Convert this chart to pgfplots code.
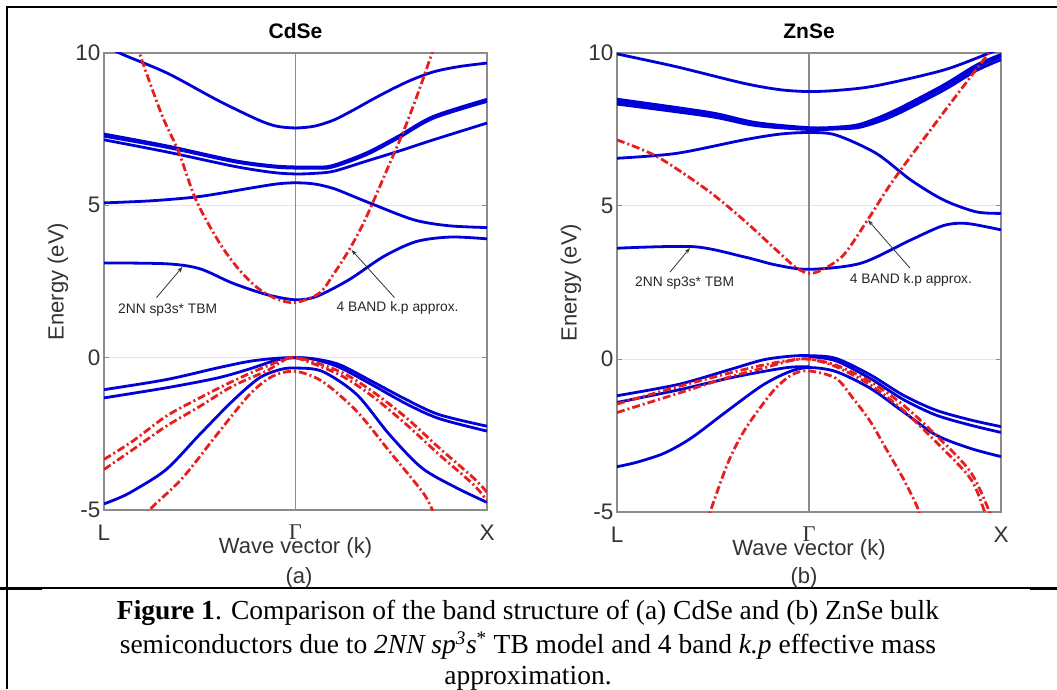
\documentclass[border=0pt]{standalone}
\usepackage{pgfplots}
\pgfplotsset{compat=1.18}
\usepackage{graphicx}
\usepackage{fontspec}
\setmainfont{Liberation Sans}
\newfontfamily\serif{Liberation Serif}
\usetikzlibrary{arrows.meta}
\definecolor{tbblue}{RGB}{0,0,215}
\definecolor{kpred}{RGB}{230,30,30}
\tikzset{
  ann/.style={font=\fontsize{13.8}{16}\selectfont, text=black!85},
  arr/.style={-{Stealth[length=6pt,width=4pt]}, line width=0.8pt, black!80},
}
\pgfplotsset{
  bandax/.style={
    scale only axis, xmin=-1, xmax=1, ymin=-5, ymax=10,
    xtick={-1,0,1}, xticklabels={L,{\serif Γ},X},
    ytick={-5,0,5,10},
    axis line style={draw=black!45, line width=1.2pt},
    tick style={draw=black!45, line width=1pt},
    major tick length=5pt, tick align=inside,
    ymajorgrids, grid style={black!10, line width=1pt},
    ticklabel style={font=\fontsize{22.5}{26}\selectfont, text=black!80},
    /pgf/number format/assume math mode=true,
    xticklabel style={yshift=-11pt},
    label style={font=\fontsize{22}{26}\selectfont, text=black!80},
    title style={font=\fontsize{21}{25}\selectfont\bfseries, text=black, at={(axis description cs:0.5,1.035)}, anchor=center},
    xlabel={Wave vector (k)}, ylabel={Energy (eV)},
    xlabel style={at={(axis description cs:0.5,-0.083)}, anchor=center},
    ylabel style={at={(axis description cs:-0.12,0.5)}, anchor=center},
    clip=true,
  },
  tb/.style={color=tbblue, line width=2.8pt, smooth, no markers, solid},
  kp/.style={color=kpred, line width=2.8pt, smooth, no markers, dash pattern=on 8pt off 3pt on 2pt off 3pt},
}
\begin{document}
\begin{tikzpicture}
\useasboundingbox (0pt,0pt) rectangle (1057pt,689pt);
% frame
\draw[line width=2.5pt] (1057pt,682pt) -- (7pt,682pt) -- (7pt,0pt);
\draw[line width=1.5pt] (0pt,101pt) -- (1057pt,101pt);
\draw[line width=3pt] (0pt,101pt) -- (42pt,101pt);
\draw[line width=3pt] (1030pt,101pt) -- (1057pt,101pt);

% ---------------- CdSe ----------------
\begin{axis}[bandax, at={(104pt,179pt)}, anchor=south west, width=383pt, height=457pt, title={CdSe}]
\draw[black!45, line width=1.2pt] (axis cs:0,-5) -- (axis cs:0,10);
% TB conduction bands
\addplot[tb] coordinates {(-1,10.3) (-0.92,10.0) (-0.67,9.34) (-0.41,8.46) (-0.2,7.82) (-0.1,7.6) (0,7.54) (0.1,7.6) (0.2,7.8) (0.3,8.12) (0.4,8.47) (0.5,8.8) (0.6,9.1) (0.72,9.38) (0.85,9.55) (1,9.67)};
\addplot[tb] coordinates {(-1,7.34) (-0.67,6.95) (-0.32,6.47) (-0.12,6.3) (0,6.26) (0.1,6.26) (0.19,6.3) (0.37,6.72) (0.54,7.28) (0.72,7.92) (1,8.48)};
\addplot[tb] coordinates {(-1,7.27) (-0.67,6.9) (-0.32,6.43) (-0.12,6.26) (0,6.22) (0.1,6.22) (0.19,6.25) (0.37,6.66) (0.54,7.22) (0.72,7.86) (1,8.41)};
\addplot[tb] coordinates {(-1,7.15) (-0.67,6.75) (-0.32,6.28) (-0.12,6.08) (0,6.03) (0.1,6.05) (0.2,6.12) (0.37,6.45) (0.55,6.8) (0.72,7.15) (1,7.7)};
\addplot[tb] coordinates {(-1,5.08) (-0.75,5.15) (-0.5,5.29) (-0.24,5.56) (-0.1,5.7) (0,5.74) (0.1,5.7) (0.2,5.55) (0.3,5.3) (0.41,5.02) (0.62,4.52) (0.8,4.33) (1,4.27)};
\addplot[tb] coordinates {(-1,3.11) (-0.67,3.08) (-0.5,2.92) (-0.33,2.45) (-0.15,2.07) (0,1.9) (0.11,2.01) (0.28,2.56) (0.46,3.32) (0.63,3.81) (0.81,3.96) (1,3.9)};
% TB valence bands
\addplot[tb] coordinates {(-1,-1.05) (-0.675,-0.72) (-0.41,-0.34) (-0.24,-0.12) (-0.1,-0.02) (0,0) (0.1,-0.04) (0.23,-0.23) (0.40,-0.78) (0.58,-1.38) (0.75,-1.87) (1,-2.25)};
\addplot[tb] coordinates {(-1,-1.32) (-0.675,-0.99) (-0.41,-0.67) (-0.24,-0.37) (-0.1,-0.08) (0,0) (0.1,-0.06) (0.23,-0.32) (0.40,-0.89) (0.58,-1.52) (0.75,-2.0) (1,-2.41)};
\addplot[tb] coordinates {(-1,-4.8) (-0.92,-4.6) (-0.85,-4.38) (-0.675,-3.67) (-0.5,-2.52) (-0.33,-1.43) (-0.19,-0.67) (-0.08,-0.39) (0,-0.34) (0.14,-0.45) (0.32,-1.21) (0.49,-2.52) (0.66,-3.62) (0.84,-4.27) (1,-4.75)};
% k.p bands
\addplot[kp] coordinates {(-0.85,10.8) (-0.815,10) (-0.7,8.0) (-0.61,6.75) (-0.52,5.18) (-0.4,3.8) (-0.3,2.93) (-0.2,2.3) (-0.1,1.93) (0,1.81) (0.125,2.12) (0.2,2.75) (0.28,3.54) (0.35,4.35) (0.41,5.18) (0.48,6.2) (0.56,7.37) (0.635,8.6) (0.713,10) (0.75,10.7)};
\addplot[kp] coordinates {(-1,-3.34) (-0.85,-2.74) (-0.675,-1.92) (-0.5,-1.32) (-0.33,-0.78) (-0.15,-0.28) (0,0) (0.23,-0.45) (0.40,-1.1) (0.58,-1.98) (0.75,-2.96) (0.93,-3.95) (1,-4.42)};
\addplot[kp] coordinates {(-1,-3.67) (-0.85,-3.02) (-0.675,-2.25) (-0.5,-1.6) (-0.33,-0.94) (-0.15,-0.43) (-0.07,-0.12) (0,0) (0.23,-0.56) (0.40,-1.26) (0.58,-2.2) (0.75,-3.18) (0.93,-4.17) (1,-4.7)};
\addplot[kp] coordinates {(-0.8,-5.4) (-0.76,-4.98) (-0.59,-3.95) (-0.41,-2.52) (-0.24,-1.21) (-0.12,-0.61) (0,-0.45) (0.14,-0.78) (0.32,-1.76) (0.49,-3.07) (0.66,-4.38) (0.71,-4.93) (0.74,-5.4)};
% annotations
\node[ann] at (axis cs:-0.668,1.57) {2NN sp3s* TBM};
\draw[arr] (axis cs:-0.726,1.97) -- (axis cs:-0.59,2.98);
\node[ann] at (axis cs:0.533,1.64) {4 BAND k.p approx.};
\draw[arr] (axis cs:0.517,1.97) -- (axis cs:0.292,3.54);
\end{axis}

% ---------------- ZnSe ----------------
\begin{axis}[bandax, at={(617pt,177pt)}, anchor=south west, width=384pt, height=459pt, title={ZnSe}]
\draw[black!45, line width=1.2pt] (axis cs:0,-5) -- (axis cs:0,10);
\addplot[tb] coordinates {(-1,9.97) (-0.69,9.55) (-0.34,9.01) (-0.15,8.8) (0,8.74) (0.15,8.78) (0.35,8.93) (0.7,9.44) (0.94,10.0) (1,10.15)};
\addplot[tb] coordinates {(-1,8.49) (-0.52,8.06) (-0.28,7.73) (0,7.56) (0.15,7.58) (0.27,7.68) (0.44,8.1) (0.7,8.95) (0.87,9.6) (1,9.95)};
\addplot[tb] coordinates {(-1,8.41) (-0.52,8.0) (-0.28,7.68) (0,7.53) (0.15,7.55) (0.27,7.63) (0.44,8.03) (0.7,8.88) (0.87,9.52) (1,9.88)};
\addplot[tb] coordinates {(-1,8.33) (-0.52,7.93) (-0.28,7.63) (0,7.5) (0.15,7.52) (0.27,7.58) (0.44,7.95) (0.7,8.78) (0.87,9.42) (1,9.78)};
\addplot[tb] coordinates {(-1,6.56) (-0.69,6.72) (-0.34,7.16) (-0.15,7.35) (0,7.4) (0.14,7.32) (0.35,6.72) (0.53,5.85) (0.7,5.2) (0.87,4.81) (1,4.76)};
\addplot[tb] coordinates {(-1,3.62) (-0.6,3.67) (-0.34,3.34) (-0.17,3.07) (0,2.93) (0.27,3.13) (0.53,3.89) (0.7,4.36) (0.82,4.43) (1,4.22)};
% valence TB
\addplot[tb] coordinates {(-1,-1.2) (-0.68,-0.83) (-0.42,-0.36) (-0.24,-0.03) (-0.1,0.09) (0,0.11) (0.14,0.02) (0.32,-0.52) (0.49,-1.18) (0.66,-1.67) (0.84,-1.99) (1,-2.21)};
\addplot[tb] coordinates {(-1,-1.42) (-0.68,-1.01) (-0.42,-0.63) (-0.24,-0.41) (-0.1,-0.27) (0,-0.25)};
\addplot[tb] coordinates {(0,0.08) (0.14,-0.06) (0.32,-0.64) (0.49,-1.32) (0.66,-1.83) (0.84,-2.16) (1,-2.4)};
\addplot[tb] coordinates {(-1,-3.52) (-0.9,-3.38) (-0.77,-3.12) (-0.68,-2.84) (-0.59,-2.48) (-0.42,-1.67) (-0.24,-0.85) (-0.1,-0.41) (0,-0.28) (0.14,-0.41) (0.32,-0.96) (0.49,-1.72) (0.66,-2.48) (0.84,-2.92) (1,-3.19)};
% k.p
\addplot[kp] coordinates {(-1,7.16) (-0.79,6.61) (-0.53,5.52) (-0.34,4.54) (-0.17,3.56) (-0.07,3.0) (0,2.8) (0.07,2.92) (0.18,3.4) (0.305,4.54) (0.44,5.85) (0.7,8.05) (0.93,9.95) (1,10.55)};
\addplot[kp] coordinates {(-1,-1.47) (-0.68,-0.9) (-0.42,-0.47) (-0.24,-0.2) (-0.1,-0.04) (0,0) (0.14,-0.2) (0.32,-0.74) (0.49,-1.5) (0.66,-2.48) (0.84,-3.68) (0.94,-4.99) (0.96,-5.4)};
\addplot[kp] coordinates {(-1,-1.75) (-0.68,-1.12) (-0.42,-0.6) (-0.24,-0.3) (-0.1,-0.06) (0,0) (0.14,-0.25) (0.32,-0.85) (0.49,-1.67) (0.66,-2.7) (0.84,-3.9) (0.915,-5.0) (0.93,-5.4)};
\addplot[kp] coordinates {(-0.53,-5.4) (-0.515,-5.0) (-0.42,-3.36) (-0.33,-2.27) (-0.19,-1.07) (-0.09,-0.52) (0,-0.39) (0.14,-0.63) (0.23,-1.29) (0.32,-2.05) (0.40,-2.92) (0.49,-3.9) (0.57,-4.93) (0.58,-5.4)};
\node[ann] at (axis cs:-0.648,2.48) {2NN sp3s* TBM};
\draw[arr] (axis cs:-0.724,2.84) -- (axis cs:-0.62,3.63);
\node[ann] at (axis cs:0.531,2.58) {4 BAND k.p approx.};
\draw[arr] (axis cs:0.526,2.97) -- (axis cs:0.307,4.54);
\end{axis}

% sub labels
\node[font=\fontsize{22}{26}\selectfont, text=black!80] at (299pt,111pt) {(a)};
\node[font=\fontsize{22}{26}\selectfont, text=black!80] at (804pt,111pt) {(b)};

% caption
\node[font=\fontsize{27.5}{32}\selectfont\serif, inner sep=0pt] at (528pt,76pt) {\textbf{Figure 1}. Comparison of the band structure of (a) CdSe and (b) ZnSe bulk};
\node[font=\fontsize{27.5}{32}\selectfont\serif, inner sep=0pt] at (528pt,43pt) {semiconductors due to \textit{2NN sp\textsuperscript{3}s}\textsuperscript{*} TB model and 4 band \textit{k.p} effective mass};
\node[font=\fontsize{27.5}{32}\selectfont\serif, inner sep=0pt] at (528pt,11pt) {approximation.};
\end{tikzpicture}
\end{document}
